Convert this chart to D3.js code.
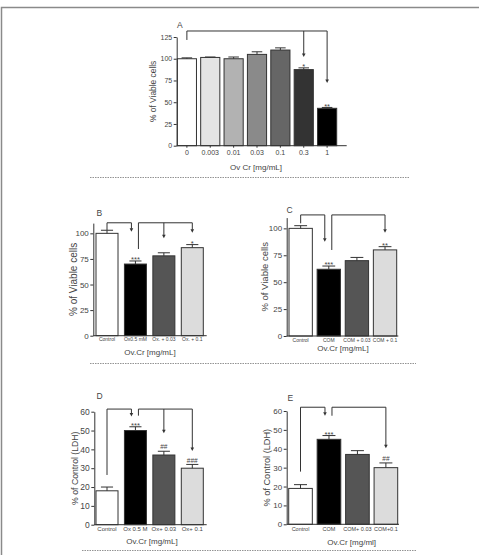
<!DOCTYPE html>
<html><head><meta charset="utf-8">
<script src="https://cdn.jsdelivr.net/npm/d3@7"></script>
<style>body{margin:0;background:#fff}svg{display:block}text{font-family:"Liberation Sans",Arial,sans-serif;fill:#444}</style>
</head><body><svg id="c" width="479" height="555"></svg>
<script>
// ---------- data ----------
const catsA = ["0","0.003","0.01","0.03","0.1","0.3","1"];
const valsA = [100,101.5,100,105,110,87.5,43];
const errA  = [1,0.5,2,3,2.5,2,1];
const sigA  = ["","","","","","*","**"];
const ticksA = [0,25,50,75,100,125];

const catsB = ["Control","Ox0.5 mM","Ox. + 0.03","Ox. + 0.1"];
const valsB = [100,70,78,86];
const errB  = [3,3,3,3];
const sigB  = ["","***","","*"];
const ticksB = [0,25,50,75,100];

const catsC = ["Control","COM","COM + 0.03","COM + 0.1"];
const valsC = [100,62,70,80];
const errC  = [2.5,3,3,3];
const sigC  = ["","***","","**"];
const ticksC = [0,25,50,75,100];

const catsD = ["Control","Ox 0.5 M","Ox+ 0.03","Ox+ 0.1"];
const valsD = [18,50,37,30];
const errD  = [2,2,2,2];
const sigD  = ["","***","##","###"];
const ticksD = [0,10,20,30,40,50,60];

const catsE = ["Control","COM","COM+ 0.03","COM+0.1"];
const valsE = [19,45,37,30];
const errE  = [2,2,2,2.5];
const sigE  = ["","***","","##"];
const ticksE = [0,10,20,30,40,50,60];

// comparison brackets (values in data units)
const bracketsA = [{from:"0", leg:121.6, top:131.9, to:[["0.3",102],["1",72]]}];
const bracketsB = [{from:"Control", leg:103.2, top:110.3, to:[["Ox0.5 mM",101.6]]},
                   {from:"Ox0.5 mM", leg:84.7, top:110.3, to:[["Ox. + 0.03",95.1],["Ox. + 0.1",100.6]]}];
const bracketsC = [{from:"Control", leg:104.7, top:112.5, to:[["COM",87.6]]},
                   {from:"COM", leg:79.9, top:112.5, to:[["COM + 0.1",96]]}];
const bracketsD = [{from:"Control", leg:26.4, top:61.4, to:[["Ox 0.5 M",57.4]]},
                   {from:"Ox 0.5 M", leg:57.9, top:61.4, to:[["Ox+ 0.03",48.5],["Ox+ 0.1",39.1]]}];
const bracketsE = [{from:"Control", leg:27.9, top:62, to:[["COM",57.5]]},
                   {from:"COM", leg:57.5, top:62, to:[["COM+0.1",40.3]]}];

const colorsA = ["#ffffff","#e4e4e4","#b2b2b2","#8a8a8a","#666666","#333333","#000000"];
const colors4 = ["#ffffff","#000000","#555555","#dcdcdc"];

// ---------- layout ----------
const panels = [
 {L:"A",cats:catsA,vals:valsA,err:errA,sig:sigA,ticks:ticksA,ymax:125,br:bracketsA,colors:colorsA,
  y0:145.7,y1:37,ax:176.7,x0:177.3,x1:336.7,pad:0.18,xend:346.7,xtick:2,
  tickFs:7,ylFs:7,yt:"% of Viable cells",ytFs:8.4,ytx:153,xt:"Ov Cr [mg/mL]",xtx:256,xty:170,lx:177,ly:28,xlY:155.5},
 {L:"B",cats:catsB,vals:valsB,err:errB,sig:sigB,ticks:ticksB,ymax:110,br:bracketsB,colors:colors4,
  y0:335.7,y1:223.1,ax:93.3,x0:96,x1:203.3,pad:0.226,xend:206.7,xtick:0,
  tickFs:5,ylFs:8,yt:"% of Viable cells",ytFs:10,ytx:73,xt:"Ov.Cr [mg/mL]",xtx:150,xty:355,lx:96.5,ly:216,xlY:341.5},
 {L:"C",cats:catsC,vals:valsC,err:errC,sig:sigC,ticks:ticksC,ymax:110,br:bracketsC,colors:colors4,
  y0:336,y1:217.6,ax:286.7,x0:289,x1:396.7,pad:0.17,xend:398.3,xtick:0,
  tickFs:5,ylFs:8,yt:"% of Viable cells",ytFs:9.5,ytx:265,xt:"Ov.Cr [mg/mL]",xtx:343,xty:351,lx:286.5,ly:213,xlY:341.5},
 {L:"D",cats:catsD,vals:valsD,err:errD,sig:sigD,ticks:ticksD,ymax:60,br:bracketsD,colors:colors4,
  y0:524.7,y1:411.7,ax:94.3,x0:96,x1:203.3,pad:0.226,xend:206.7,xtick:0,
  tickFs:6,ylFs:8.5,yt:"% of Control (LDH)",ytFs:8.7,ytx:75,xt:"Ov.Cr [mg/mL]",xtx:152,xty:543.5,lx:96.5,ly:398.5,xlY:531.5},
 {L:"E",cats:catsE,vals:valsE,err:errE,sig:sigE,ticks:ticksE,ymax:60,br:bracketsE,colors:colors4,
  y0:524.3,y1:411,ax:286.7,x0:288.7,x1:397.7,pad:0.17,xend:399,xtick:0,
  tickFs:5.5,ylFs:8,yt:"% of Control (LDH)",ytFs:9.2,ytx:266.5,xt:"Ov.Cr [mg/ml]",xtx:351.7,xty:544.5,lx:287.5,ly:401,xlY:531.5}
];

const svg = d3.select("#c");
const ink = "#333";

svg.append("defs").append("marker").attr("id","arr").attr("viewBox","0 0 6 6")
  .attr("refX",3).attr("refY",6).attr("markerWidth",3.5).attr("markerHeight",3.5)
  .attr("orient","auto-start-reverse").attr("markerUnits","userSpaceOnUse")
  .append("path").attr("d","M0,0 L6,0 L3,6 Z").attr("fill",ink).attr("transform","rotate(0)");

// frame
svg.append("path").attr("d","M1.5,555 V7.5 H479").attr("fill","none").attr("stroke","#8a8a8a").attr("stroke-width",1.5);

// dashed separators
[[90,410,177.5],[90,416,363.5],[82,416,550.5]].forEach(([a,b,yy])=>{
  svg.append("line").attr("x1",a).attr("x2",b).attr("y1",yy).attr("y2",yy)
    .attr("stroke","#777").attr("stroke-width",0.8).attr("stroke-dasharray","1.5,1");
});

panels.forEach(p=>{
  const g = svg.append("g");
  const y = d3.scaleLinear().domain([0,p.ymax]).range([p.y0,p.y1]);
  const x = d3.scaleBand().domain(p.cats).range([p.x0,p.x1]).paddingInner(p.pad).paddingOuter(0);
  const bw = x.bandwidth();

  // bars
  g.selectAll("rect.bar").data(p.cats).join("rect")
    .attr("x",d=>x(d)).attr("y",(d,i)=>y(p.vals[i]))
    .attr("width",bw).attr("height",(d,i)=>y(0)-y(p.vals[i]))
    .attr("fill",(d,i)=>p.colors[i]).attr("stroke",ink).attr("stroke-width",1);

  // error bars
  const cap = bw*0.55;
  p.cats.forEach((c,i)=>{
    const cx = x(c)+bw/2, yt = y(p.vals[i]+p.err[i]), yb = y(p.vals[i]);
    g.append("line").attr("x1",cx).attr("x2",cx).attr("y1",yb).attr("y2",yt).attr("stroke",ink).attr("stroke-width",1);
    g.append("line").attr("x1",cx-cap/2).attr("x2",cx+cap/2).attr("y1",yt).attr("y2",yt).attr("stroke",ink).attr("stroke-width",1);
    if(p.sig[i]){
      const isHash = p.sig[i][0]==="#";
      g.append("text").attr("x",cx).attr("y",isHash? yt-1.8 : yt+1.2)
        .attr("text-anchor","middle").attr("font-size",isHash?6.5:7.5).text(p.sig[i]);
    }
  });

  // y axis
  const ya = g.append("g").attr("transform",`translate(${p.ax},0)`)
    .call(d3.axisLeft(y).tickValues(p.ticks).tickSize(3).tickSizeOuter(0).tickPadding(1.5));
  ya.select(".domain").attr("stroke",ink);
  ya.selectAll(".tick line").attr("stroke",ink);
  ya.selectAll("text").attr("font-size",p.ylFs).attr("fill","#444");

  // x axis
  const xa = g.append("g").attr("transform",`translate(0,${p.y0})`)
    .call(d3.axisBottom(x).tickSize(p.xtick).tickSizeOuter(0).tickPadding(2));
  xa.select(".domain").remove();
  xa.selectAll(".tick line").attr("stroke",ink);
  xa.selectAll("text").attr("font-size",p.tickFs).attr("fill","#444").attr("dy",null).attr("y",null)
    .attr("transform",null);
  xa.selectAll(".tick text").attr("y",p.xlY-p.y0);
  g.append("line").attr("x1",p.ax).attr("x2",p.xend).attr("y1",p.y0).attr("y2",p.y0).attr("stroke",ink).attr("stroke-width",1);

  // titles
  g.append("text").attr("transform",`translate(${p.ytx},${(p.y0+p.y1)/2}) rotate(-90)`)
    .attr("text-anchor","middle").attr("dy","0.35em").attr("font-size",p.ytFs).text(p.yt);
  g.append("text").attr("x",p.xtx).attr("y",p.xty).attr("text-anchor","middle").attr("font-size",8).text(p.xt);
  g.append("text").attr("x",p.lx).attr("y",p.ly).attr("font-size",8.5).text(p.L);

  // brackets
  const starts = new Set(p.br.map(b=>b.from));
  p.br.forEach(b=>{
    const ends = b.to.map(t=>t[0]);
    const xs = x(b.from)+bw/2 + (p.br.some(o=>o!==b && o.to.some(t=>t[0]===b.from)) ? 3 : 0);
    const xe = c => x(c)+bw/2 + (starts.has(c) ? -4 : 0);
    const lastX = d3.max(ends, xe);
    g.append("path").attr("d",`M${xs},${y(b.leg)} V${y(b.top)} H${lastX}`)
      .attr("fill","none").attr("stroke",ink).attr("stroke-width",1);
    b.to.forEach(([c,e])=>{
      g.append("line").attr("x1",xe(c)).attr("x2",xe(c)).attr("y1",y(b.top)).attr("y2",y(e)-3)
        .attr("stroke",ink).attr("stroke-width",1);
      g.append("path").attr("d",`M${xe(c)-1.8},${y(e)-3.5} L${xe(c)+1.8},${y(e)-3.5} L${xe(c)},${y(e)} Z`).attr("fill",ink);
    });
  });
});
</script></body></html>
